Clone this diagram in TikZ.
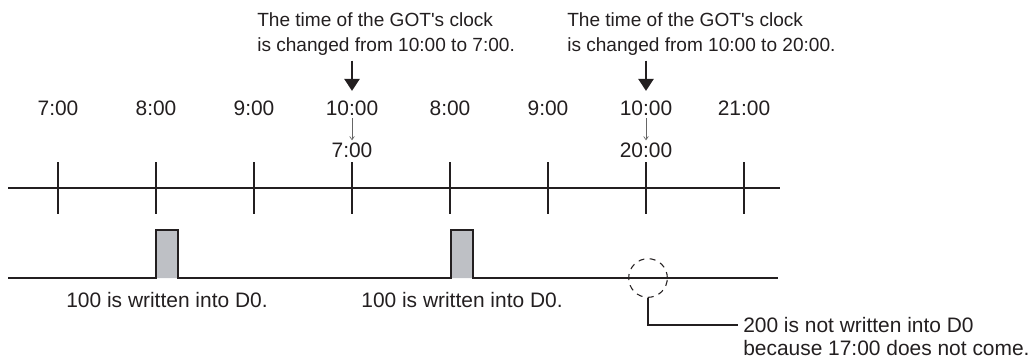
\documentclass[tikz,border=0pt]{standalone}
\usepackage{fontspec}
\setmainfont{Liberation Sans}
\usetikzlibrary{arrows.meta}
\definecolor{inkgray}{RGB}{35,31,32}
\definecolor{pulsegray}{RGB}{190,192,197}
\begin{document}
\begin{tikzpicture}[
    x=0.75pt, y=-0.75pt,
    txt/.style={font=\fontsize{15.7}{18}\selectfont,text=inkgray,inner sep=0pt,align=left},
    msg/.style={txt,font=\fontsize{14.3}{18.75}\selectfont,anchor=north west},
    wire/.style={line width=0.9pt,draw=inkgray},
    bigarr/.style={-{Triangle[width=11pt,length=9pt]},line width=2.2pt,draw=inkgray},
    smallarr/.style={-{Straight Barb[length=2.5pt,width=3.5pt]},line width=0.5pt,draw=black!60}
]
\useasboundingbox (0,0) rectangle (1034,361);
% messages
\node[msg] (msga) at (257,12) {The time of the GOT\textquotesingle s clock\\is changed from 10:00 to 7:00.};
\node[msg] (msgb) at (567,12) {The time of the GOT\textquotesingle s clock\\is changed from 10:00 to 20:00.};
% clock labels
\node[txt] (ta) at (58,108) {7:00};
\node[txt] (tb) at (156,108) {8:00};
\node[txt] (tc) at (254,108) {9:00};
\node[txt] (td) at (352,108) {10:00};
\node[txt] (te) at (450,108) {8:00};
\node[txt] (tf) at (548,108) {9:00};
\node[txt] (tg) at (646,108) {10:00};
\node[txt] (th) at (744,108) {21:00};
\node[txt] (tdnew) at (352,150) {7:00};
\node[txt] (tgnew) at (646,150) {20:00};
\draw[bigarr,shorten <=4pt,shorten >=7pt] (msga.south -| td.north) -- (td.north);
\draw[bigarr,shorten <=4pt,shorten >=7pt] (msgb.south -| tg.north) -- (tg.north);
\draw[smallarr,shorten <=2pt,shorten >=1.5pt] (td.south) -- (tdnew.north);
\draw[smallarr,shorten <=2pt,shorten >=1.5pt] (tg.south) -- (tgnew.north);
% time axis
\draw[wire] (8,188) -- (780,188);
\draw[wire] (58,162) -- (58,214) (156,162) -- (156,214) (254,162) -- (254,214)
    (352,162) -- (352,214) (450,162) -- (450,214) (548,162) -- (548,214)
    (646,162) -- (646,214) (744,162) -- (744,214);
% signal
\fill[pulsegray] (156,230) rectangle (178,278) (451,230) rectangle (473,278);
\draw[wire] (8,278) -- (156,278) -- (156,230) -- (178,230) -- (178,278)
    -- (451,278) -- (451,230) -- (473,230) -- (473,278) -- (778,278);
\node[txt] (wra) at (167,300) {100 is written into D0.};
\node[txt] (wrb) at (462,300) {100 is written into D0.};
% missed write
\node[circle,draw=inkgray,dashed,dash pattern=on 4.5pt off 4pt,line width=0.8pt,
    minimum size=29pt,inner sep=0pt] (miss) at (648,278) {};
\node[txt,anchor=west] (note) at (743,325) {200 is not written into D0};
\node[txt,anchor=north west] (note2) at ([yshift=-5pt]note.south west) {because 17:00 does not come.};
\draw[wire] (miss.south) |- ([xshift=-4pt]note.west);
\end{tikzpicture}
\end{document}
